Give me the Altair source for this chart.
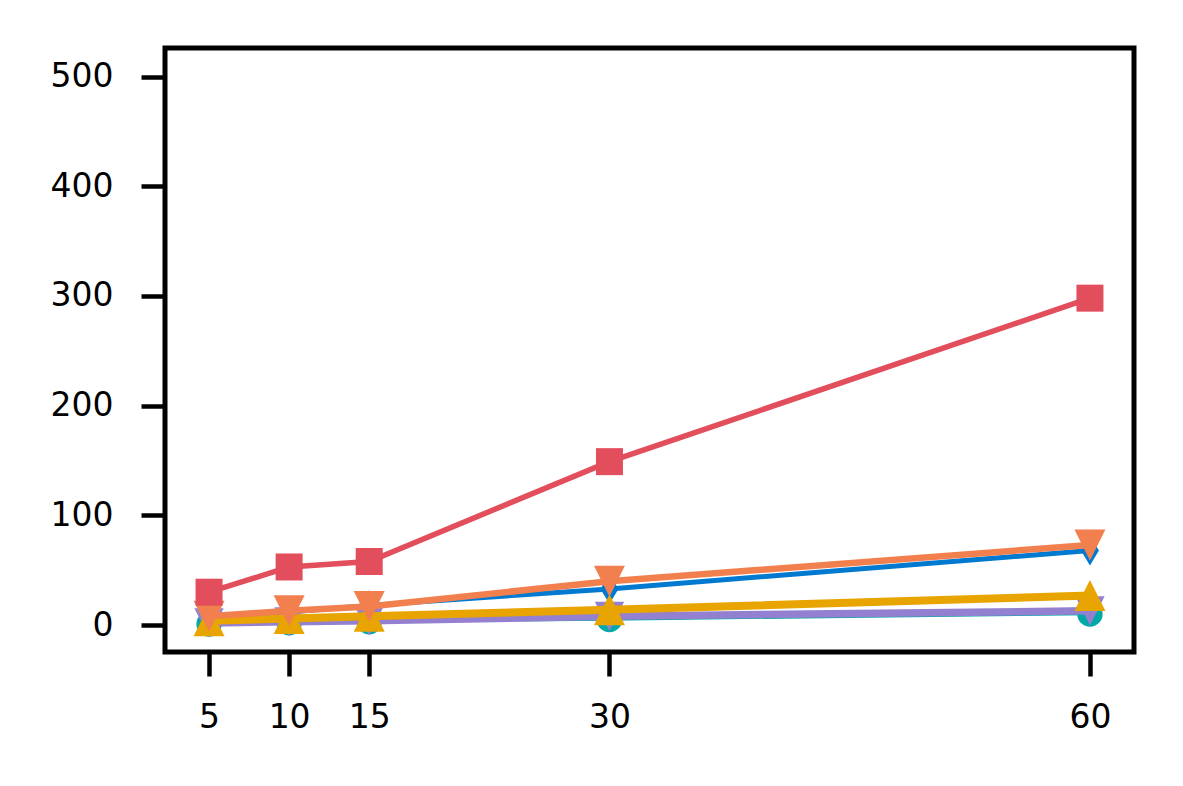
import altair as alt
import pandas as pd

x_vals = [5, 10, 15, 30, 60]
y_ticks = [0, 100, 200, 300, 400, 500]
series_names = ["teal", "blue", "purple", "yellow", "orange", "red"]
teal_vals = [1, 2, 3, 5, 10]
blue_vals = [5, 12, 18, 33, 68]
purple_vals = [2, 3, 4, 8, 13]
yellow_vals = [4, 6, 8, 14, 27]
orange_vals = [8, 13, 17, 40, 73]
red_vals = [30, 53, 58, 149, 298]

values = {
    "teal": teal_vals, "blue": blue_vals, "purple": purple_vals,
    "yellow": yellow_vals, "orange": orange_vals, "red": red_vals,
}
colors = {
    "teal": "#00A8A8", "blue": "#007AD0", "purple": "#9480D0",
    "yellow": "#E8A400", "orange": "#F2804F", "red": "#E24E5C",
}
widths = {"teal": 2, "blue": 5, "purple": 7.5, "yellow": 8, "orange": 6.5, "red": 5.5}
shapes = {
    "teal": "circle",
    "blue": "M0,-1L0.6,0L0,1L-0.6,0Z",
    "purple": "M-1,-1L1,-1L0,1Z",
    "yellow": "M0,-1L1,1L-1,1Z",
    "orange": "M-1,-1L1,-1L0,1Z",
    "red": "square",
}
sizes = {"teal": 640, "blue": 900, "purple": 860, "yellow": 960, "orange": 960, "red": 729}

xs = alt.Scale(domain=[2.25, 62.75], nice=False, zero=False)
ys = alt.Scale(domain=[-24.5, 526], nice=False, zero=False)

xaxis = alt.Axis(values=x_vals, title=None, grid=False, domain=False,
                 tickColor="black", tickWidth=4.5, tickSize=24,
                 labelFont="DejaVu Sans", labelFontSize=33, labelColor="black",
                 labelPadding=25, labelFlush=False, labelOverlap=False)
yaxis = alt.Axis(values=y_ticks, title=None, grid=False, domain=False,
                 tickColor="black", tickWidth=4.5, tickSize=24,
                 labelFont="DejaVu Sans", labelFontSize=33, labelColor="black",
                 labelPadding=28, labelFlush=False, labelOverlap=False)

layers = []
for i, name in enumerate(series_names):
    df = pd.DataFrame({"x": x_vals, "y": values[name]})
    enc_x = alt.X("x:Q", scale=xs, axis=xaxis)
    enc_y = alt.Y("y:Q", scale=ys, axis=yaxis)
    line = alt.Chart(df).mark_line(color=colors[name], strokeWidth=widths[name]).encode(x=enc_x, y=enc_y)
    pts = alt.Chart(df).mark_point(shape=shapes[name], filled=True, opacity=1,
                                   color=colors[name], size=sizes[name], strokeWidth=0).encode(
        x=enc_x, y=enc_y)
    layers += [line, pts]

chart = alt.layer(*layers).properties(
    width=969, height=604,
    background="white",
    autosize=alt.AutoSizeParams(type="none"),
    padding={"left": 157, "top": 40, "right": 41, "bottom": 134},
).configure_view(stroke="black", strokeWidth=5)

chart.save("out.html", embed_options={"renderer": "svg", "actions": False})
